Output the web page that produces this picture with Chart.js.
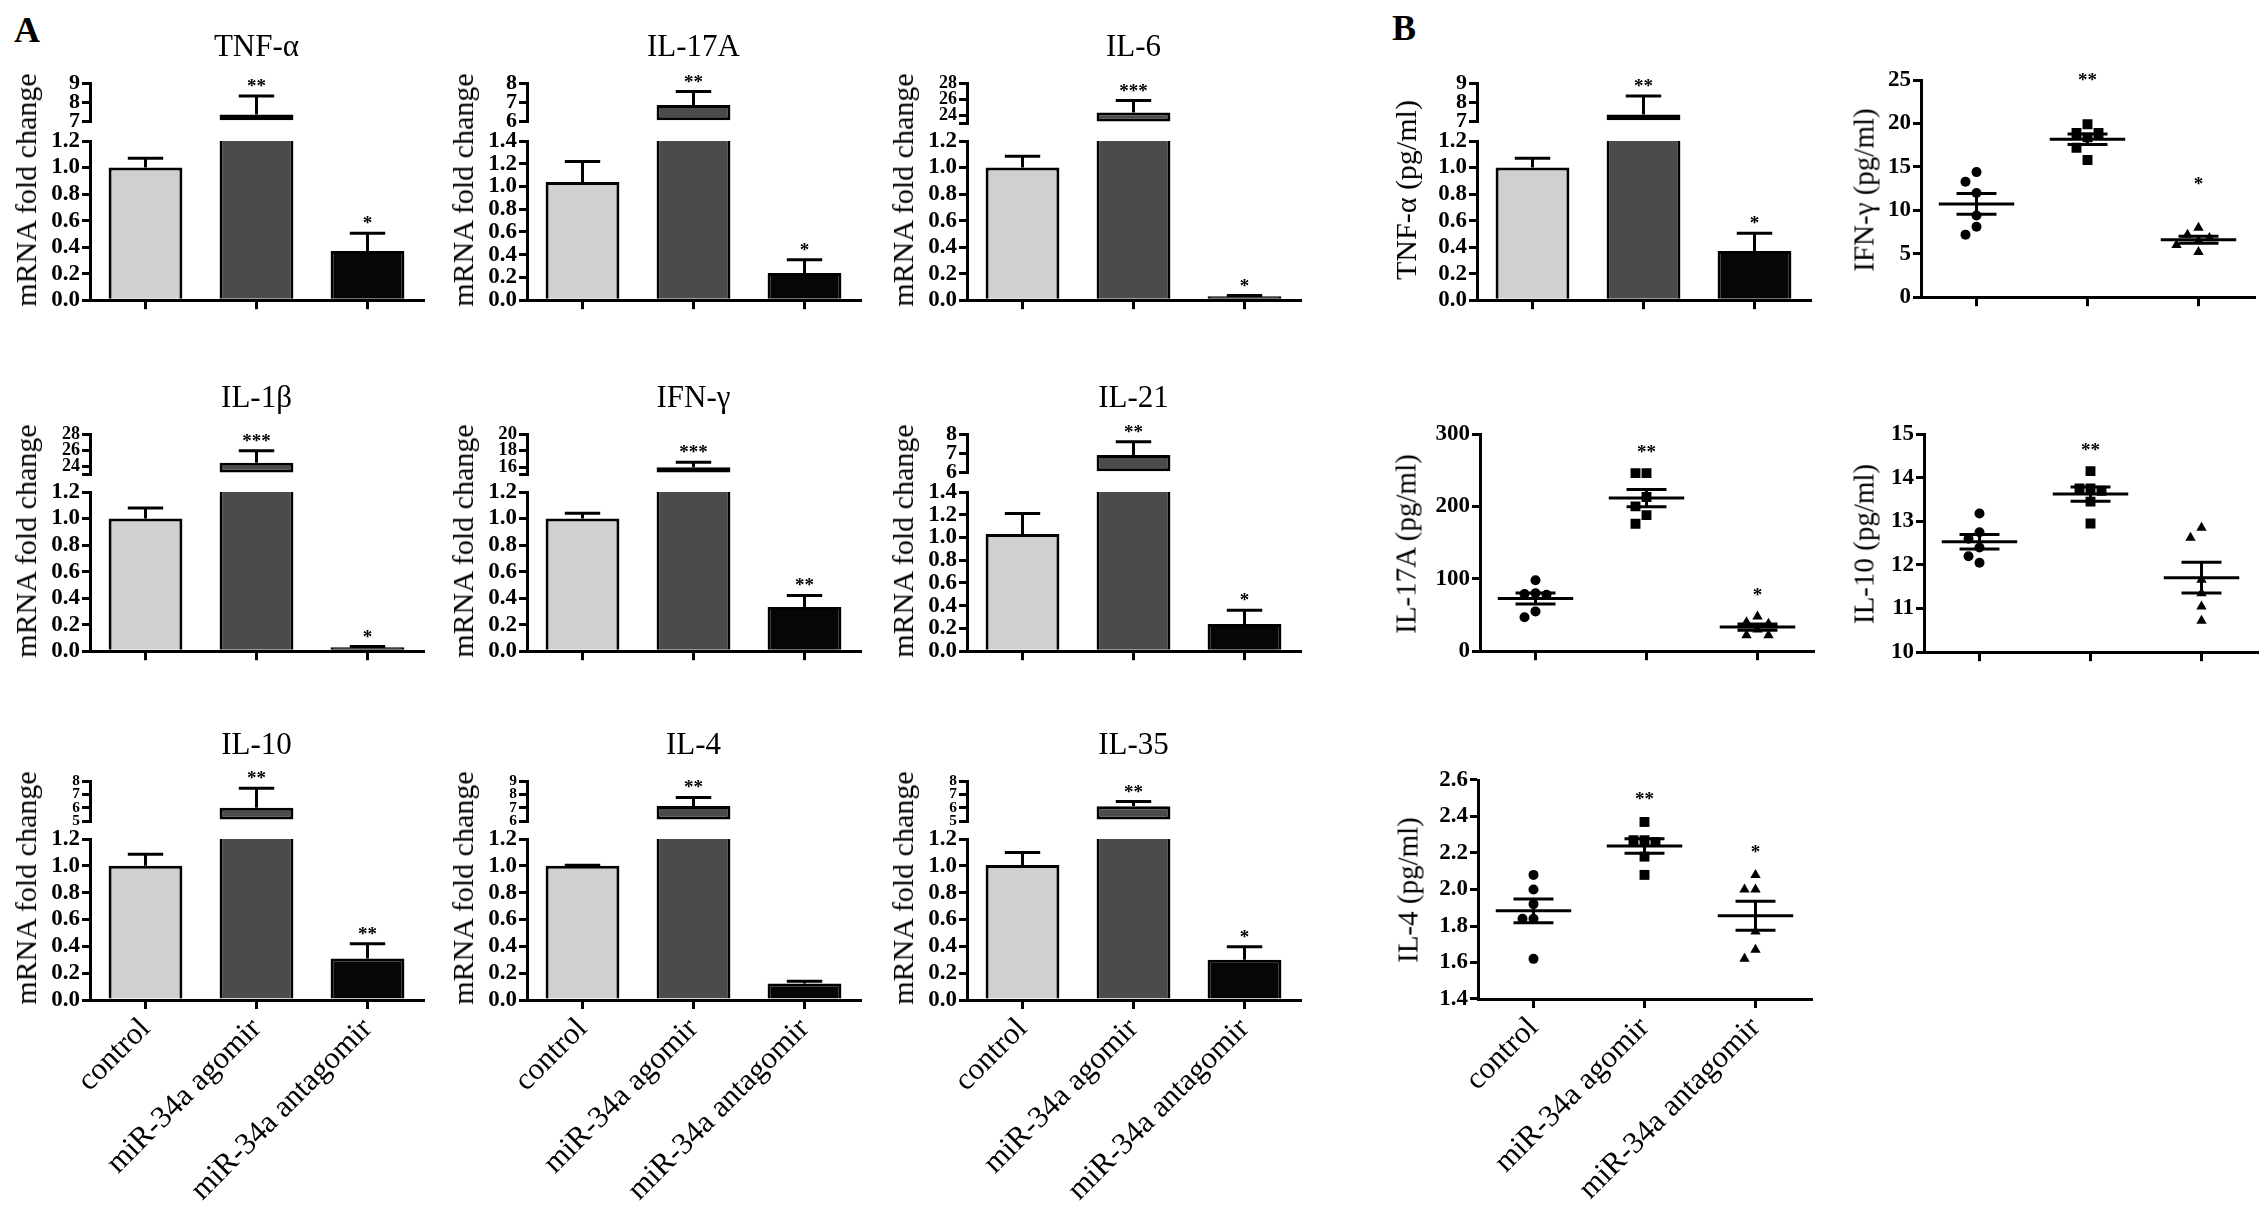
<!DOCTYPE html>
<html>
<head>
<meta charset="utf-8">
<title>miR-34a cytokines</title>
<script src="https://cdn.jsdelivr.net/npm/chart.js"></script>
<style>
html, body { margin: 0; padding: 0; background: #fff; width: 2268px; height: 1214px; overflow: hidden; }
.box { position: absolute; }
.txt { position: absolute; white-space: nowrap; font-family: 'Liberation Serif', 'Times New Roman', serif; color: #000; line-height: 1; transform: translate(-50%, -50%); }
.rot { transform: translate(-50%, -50%) rotate(-90deg); }
</style>
</head>
<body>
<script>
// Groups on the x axis
const GROUPS = ['control', 'miR-34a agomir', 'miR-34a antagomir'];

// Panel A / B bar charts: mean, SEM, significance
const TNF_MEAN = [1.0, 7.37, 0.37];
const TNF_SEM = [0.07, 0.96, 0.135];
const TNF_STARS = ['', '**', '*'];

const IL17A_MEAN = [1.04, 6.87, 0.24];
const IL17A_SEM = [0.18, 0.69, 0.115];
const IL17A_STARS = ['', '**', '*'];

const IL6_MEAN = [1.0, 24.3, 0.03];
const IL6_SEM = [0.085, 1.5, 0.005];
const IL6_STARS = ['', '***', '*'];

const IL1B_MEAN = [1.0, 24.4, 0.03];
const IL1B_SEM = [0.08, 1.5, 0.005];
const IL1B_STARS = ['', '***', '*'];

const IFNG_MEAN = [1.0, 16.0, 0.333];
const IFNG_SEM = [0.04, 0.6, 0.087];
const IFNG_STARS = ['', '***', '**'];

const IL21_MEAN = [1.03, 6.92, 0.24];
const IL21_SEM = [0.18, 0.68, 0.12];
const IL21_STARS = ['', '**', '*'];

const IL10_MEAN = [1.0, 6.0, 0.31];
const IL10_SEM = [0.086, 1.45, 0.11];
const IL10_STARS = ['', '**', '**'];

const IL4_MEAN = [1.0, 7.13, 0.123];
const IL4_SEM = [0.005, 0.64, 0.017];
const IL4_STARS = ['', '**', ''];

const IL35_MEAN = [1.007, 6.1, 0.30];
const IL35_SEM = [0.093, 0.36, 0.097];
const IL35_STARS = ['', '**', '*'];

// Panel B scatter data (pg/ml), one value per animal
const IFNG_PG_CTRL = [14.4, 13.3, 12.0, 9.4, 8.1, 7.2];
const IFNG_PG_AGO = [19.9, 18.9, 18.9, 18.4, 17.2, 15.8];
const IFNG_PG_ANT = [8.0, 7.2, 6.8, 6.5, 6.0, 5.2];
const IFNG_PG_STARS = ['', '**', '*'];

const IL17A_PG_CTRL = [98, 80, 79, 78, 55, 47];
const IL17A_PG_AGO = [246, 246, 213, 200, 188, 176];
const IL17A_PG_ANT = [48, 40, 38, 30, 22, 22];
const IL17A_PG_STARS = ['', '**', '*'];

const IL10_PG_CTRL = [13.18, 12.75, 12.6, 12.4, 12.2, 12.05];
const IL10_PG_AGO = [14.15, 13.75, 13.75, 13.7, 13.45, 12.95];
const IL10_PG_ANT = [12.85, 12.62, 11.66, 11.35, 11.05, 10.72];
const IL10_PG_STARS = ['', '**', ''];

const IL4_PG_CTRL = [2.08, 2.0, 1.92, 1.84, 1.84, 1.62];
const IL4_PG_AGO = [2.37, 2.27, 2.27, 2.26, 2.18, 2.08];
const IL4_PG_ANT = [2.08, 2.0, 2.0, 1.77, 1.67, 1.62];
const IL4_PG_STARS = ['', '**', '*'];

const FONT = "'Liberation Serif', 'Times New Roman', serif";
Chart.defaults.font.family = FONT;
Chart.defaults.color = '#000';
Chart.defaults.animation = false;

const BAR_COLORS = ['#d0d0d0', '#4b4b4b', '#060606'];
const YW = 80;      // space left of the y axis line
const PW = 333;     // plot width
const SEG_H = 40;   // height of upper (broken) segment
const GAP = 18;

// error bars (upper whisker only) and stars for bar charts
const errorBars = {
    id: 'errorBars',
    afterDatasetsDraw: function(chart, args, opts) {
        const ctx = chart.ctx;
        const ys = chart.scales.y;
        const vals = chart.data.datasets[0].data;
        ctx.save();
        ctx.strokeStyle = '#000';
        ctx.fillStyle = '#000';
        ctx.lineWidth = 3;
        chart.getDatasetMeta(0).data.forEach(function(bar, i) {
            const m = vals[i];
            if (m == null || m < ys.min || m > ys.max) return;
            const y0 = ys.getPixelForValue(m);
            const y1 = ys.getPixelForValue(m + opts.sems[i]);
            const half = bar.width * 0.24;
            ctx.beginPath();
            ctx.moveTo(bar.x, y0);
            ctx.lineTo(bar.x, y1);
            ctx.moveTo(bar.x - half, y1);
            ctx.lineTo(bar.x + half, y1);
            ctx.stroke();
            if (opts.stars[i]) {
                ctx.font = 'bold 19px ' + FONT;
                ctx.textAlign = 'center';
                ctx.textBaseline = 'alphabetic';
                ctx.fillText(opts.stars[i], bar.x, y1 - 4);
            }
        });
        ctx.restore();
    }
};

// mean +/- SEM lines and stars for scatter charts
const meanSem = {
    id: 'meanSem',
    afterDatasetsDraw: function(chart, args, opts) {
        const ctx = chart.ctx;
        const xs = chart.scales.x, ys = chart.scales.y;
        ctx.save();
        ctx.strokeStyle = '#000';
        ctx.fillStyle = '#000';
        ctx.lineWidth = 3;
        chart.data.datasets.forEach(function(ds, g) {
            const v = ds.data.map(function(p) { return p.y; });
            const n = v.length;
            const m = v.reduce(function(a, b) { return a + b; }, 0) / n;
            const sd = Math.sqrt(v.reduce(function(a, b) { return a + (b - m) * (b - m); }, 0) / (n - 1));
            const sem = sd / Math.sqrt(n);
            const hl = function(a, b, y) {
                ctx.moveTo(xs.getPixelForValue(a), ys.getPixelForValue(y));
                ctx.lineTo(xs.getPixelForValue(b), ys.getPixelForValue(y));
            };
            ctx.beginPath();
            hl(g - 0.34, g + 0.34, m);
            hl(g - 0.18, g + 0.18, m + sem);
            hl(g - 0.18, g + 0.18, m - sem);
            ctx.moveTo(xs.getPixelForValue(g), ys.getPixelForValue(m + sem));
            ctx.lineTo(xs.getPixelForValue(g), ys.getPixelForValue(m - sem));
            ctx.stroke();
            if (opts.stars[g]) {
                const top = ys.getPixelForValue(Math.max.apply(null, v));
                ctx.font = 'bold 19px ' + FONT;
                ctx.textAlign = 'center';
                ctx.textBaseline = 'alphabetic';
                ctx.fillText(opts.stars[g], xs.getPixelForValue(g), top - opts.gap + 9);
            }
        });
        ctx.restore();
    }
};

function place(left, top, width, height) {
    const d = document.createElement('div');
    d.className = 'box';
    d.style.left = left + 'px';
    d.style.top = top + 'px';
    d.style.width = width + 'px';
    d.style.height = height + 'px';
    const c = document.createElement('canvas');
    d.appendChild(c);
    document.body.appendChild(d);
    return c;
}

function label(str, x, y, size, extra) {
    const d = document.createElement('div');
    d.className = 'txt' + (extra && extra.rot ? ' rot' : '');
    d.style.left = x + 'px';
    d.style.top = y + 'px';
    d.style.fontSize = size + 'px';
    if (extra && extra.bold) d.style.fontWeight = 'bold';
    d.textContent = str;
    document.body.appendChild(d);
}

function yAxis(min, max, step, dec, size) {
    return {
        min: min,
        max: max,
        afterFit: function(s) { s.width = YW; },
        afterBuildTicks: function(s) {
            const t = [];
            for (let v = Math.ceil(min / step - 1e-6) * step; v <= max + 1e-6; v += step) t.push({ value: v });
            if (Math.abs(t[0].value - min) > 1e-6) t.unshift({ value: min });
            s.ticks = t;
        },
        ticks: {
            autoSkip: false,
            padding: 2,
            color: '#000',
            font: { size: size, weight: 'bold' },
            callback: function(v) {
                const k = v / step;
                return Math.abs(k - Math.round(k)) < 1e-6 ? v.toFixed(dec) : '';
            }
        },
        grid: { drawOnChartArea: false, drawTicks: true, tickLength: 8, lineWidth: 3, color: '#000' },
        border: { display: true, width: 3, color: '#000' }
    };
}

function xAxis(type, showLabels, h) {
    const ax = {
        type: type,
        afterFit: function(s) { s.height = h; },
        ticks: {
            display: showLabels,
            autoSkip: false,
            minRotation: 45,
            maxRotation: 45,
            padding: 2,
            color: '#000',
            font: { size: 31 }
        },
        grid: { offset: false, drawOnChartArea: false, drawTicks: true, tickLength: 9, lineWidth: 3, color: '#000' },
        border: { display: true, width: 3, color: '#000' }
    };
    if (type === 'linear') {
        ax.min = -0.5;
        ax.max = 2.5;
        ax.afterBuildTicks = function(s) { s.ticks = [0, 1, 2].map(function(v) { return { value: v }; }); };
        ax.ticks.callback = function(v) { return GROUPS[v]; };
    }
    return ax;
}

function barChart(canvas, vals, sems, stars, yCfg, xCfg, pad, seg) {
    const ds = {
        data: vals,
        backgroundColor: BAR_COLORS,
        borderColor: '#000',
        borderWidth: 3,
        barPercentage: 0.665,
        categoryPercentage: 1
    };
    if (seg) {
        // upper piece starts at the segment floor
        ds.base = seg.min;
        ds.borderSkipped = false;
        ds.clip = 0;
    } else {
        ds.borderSkipped = 'start';
        ds.clip = { top: 0, left: false, right: false, bottom: false };
    }
    return new Chart(canvas, {
        type: 'bar',
        data: { labels: GROUPS, datasets: [ds] },
        options: {
            responsive: true,
            maintainAspectRatio: false,
            layout: { padding: pad, autoPadding: false },
            plugins: {
                legend: { display: false },
                tooltip: { enabled: false },
                errorBars: { sems: sems, stars: stars }
            },
            scales: { x: xCfg, y: yCfg }
        },
        plugins: [errorBars]
    });
}

// bar chart with a broken y axis: small upper segment + 0..botMax segment
function brokenPanel(ax, tick, xLine, title, yTitle, yTitleX, mean, sem, stars, seg, showLabels) {
    const segB = tick + SEG_H;
    const botT = segB + GAP;
    const pxStep = SEG_H / (seg.max - seg.min) * seg.step;
    const topFont = Math.min(22, pxStep + 2);
    const topVals = mean.map(function(v) { return v >= seg.min ? v : null; });

    const c1 = place(ax - YW, tick - 30, YW + PW + 10, SEG_H + 30 + 14);
    barChart(c1, topVals, sem, stars,
        yAxis(seg.min, seg.max, seg.step, 0, topFont),
        { type: 'category', display: false, grid: { offset: false } },
        { top: 30, bottom: 14, left: 0, right: 10 }, seg);

    const xH = showLabels ? 215 : 14;
    const c2 = place(ax - YW, botT - 16, YW + PW + 10, (xLine - botT) + 16 + xH);
    barChart(c2, mean, sem, stars,
        yAxis(0, seg.botMax, 0.2, 1, 23),
        xAxis('category', showLabels, xH),
        { top: 16, bottom: 0, left: 0, right: 10 }, null);

    if (title) label(title, ax + PW / 2, tick - 38, 31);
    label(yTitle, yTitleX, (tick + xLine) / 2 - 3, 30, { rot: true });
}

const STYLES = ['circle', 'rect', 'triangle'];
const RADII = [5, 7, 6];

// spread points that would overlap, like a column scatter
function swarm(vals, pxY, pxX) {
    const placed = [];
    const offs = new Array(vals.length);
    const order = vals.map(function(v, i) { return i; }).sort(function(a, b) { return vals[b] - vals[a]; });
    order.forEach(function(i) {
        const y = vals[i] * pxY;
        const ks = [0, -1, 1, -2, 2, -3, 3];
        for (let j = 0; j < ks.length; j++) {
            const x = ks[j] * 11;
            const free = placed.every(function(p) { return Math.hypot(p.x - x, p.y - y) >= 11; });
            if (free) { placed.push({ x: x, y: y }); offs[i] = x / pxX; break; }
        }
    });
    return offs;
}

function scatterPanel(ax, top, bottom, groups, stars, gap, axis, yTitle, yTitleX, showLabels) {
    const xH = showLabels ? 215 : 14;
    const c = place(ax - YW, top - 16, YW + PW + 10, (bottom - top) + 16 + xH);
    const pxY = (bottom - top) / (axis.max - axis.min);
    const pxX = PW / 3;
    const datasets = groups.map(function(vals, g) {
        const offs = swarm(vals, pxY, pxX);
        return {
            data: vals.map(function(v, i) { return { x: g + offs[i], y: v }; }),
            pointStyle: STYLES[g],
            pointRadius: RADII[g],
            backgroundColor: '#000',
            borderColor: '#000',
            borderWidth: 0
        };
    });
    new Chart(c, {
        type: 'scatter',
        data: { datasets: datasets },
        options: {
            responsive: true,
            maintainAspectRatio: false,
            layout: { padding: { top: 16, bottom: 0, left: 0, right: 10 }, autoPadding: false },
            plugins: {
                legend: { display: false },
                tooltip: { enabled: false },
                meanSem: { stars: stars, gap: gap }
            },
            scales: {
                x: xAxis('linear', showLabels, xH),
                y: yAxis(axis.min, axis.max, axis.step, axis.dec, 23)
            }
        },
        plugins: [meanSem]
    });
    label(yTitle, yTitleX, (top + bottom) / 2, 29, { rot: true });
}

document.addEventListener('DOMContentLoaded', function() {
    const COLS = [90, 527, 967];
    const ROWS = [{ tick: 83, x: 302 }, { tick: 434, x: 653 }, { tick: 781, x: 1000 }];
    const Y_A = 'mRNA fold change';

    label('A', 27, 30, 36, { bold: true });
    label('B', 1404, 28, 36, { bold: true });

    // Panel A
    brokenPanel(COLS[0], ROWS[0].tick, ROWS[0].x, 'TNF-α', Y_A, COLS[0] - 64, TNF_MEAN, TNF_SEM, TNF_STARS,
        { min: 7, max: 9, step: 1, botMax: 1.2 }, false);
    brokenPanel(COLS[1], ROWS[0].tick, ROWS[0].x, 'IL-17A', Y_A, COLS[1] - 64, IL17A_MEAN, IL17A_SEM, IL17A_STARS,
        { min: 6, max: 8, step: 1, botMax: 1.4 }, false);
    brokenPanel(COLS[2], ROWS[0].tick, ROWS[0].x, 'IL-6', Y_A, COLS[2] - 64, IL6_MEAN, IL6_SEM, IL6_STARS,
        { min: 23, max: 28, step: 2, botMax: 1.2 }, false);

    brokenPanel(COLS[0], ROWS[1].tick, ROWS[1].x, 'IL-1β', Y_A, COLS[0] - 64, IL1B_MEAN, IL1B_SEM, IL1B_STARS,
        { min: 23, max: 28, step: 2, botMax: 1.2 }, false);
    brokenPanel(COLS[1], ROWS[1].tick, ROWS[1].x, 'IFN-γ', Y_A, COLS[1] - 64, IFNG_MEAN, IFNG_SEM, IFNG_STARS,
        { min: 15.2, max: 20, step: 2, botMax: 1.2 }, false);
    brokenPanel(COLS[2], ROWS[1].tick, ROWS[1].x, 'IL-21', Y_A, COLS[2] - 64, IL21_MEAN, IL21_SEM, IL21_STARS,
        { min: 6, max: 8, step: 1, botMax: 1.4 }, false);

    brokenPanel(COLS[0], ROWS[2].tick, ROWS[2].x, 'IL-10', Y_A, COLS[0] - 64, IL10_MEAN, IL10_SEM, IL10_STARS,
        { min: 5, max: 8, step: 1, botMax: 1.2 }, true);
    brokenPanel(COLS[1], ROWS[2].tick, ROWS[2].x, 'IL-4', Y_A, COLS[1] - 64, IL4_MEAN, IL4_SEM, IL4_STARS,
        { min: 6, max: 9, step: 1, botMax: 1.2 }, true);
    brokenPanel(COLS[2], ROWS[2].tick, ROWS[2].x, 'IL-35', Y_A, COLS[2] - 64, IL35_MEAN, IL35_SEM, IL35_STARS,
        { min: 5, max: 8, step: 1, botMax: 1.2 }, true);

    // Panel B
    brokenPanel(1477, ROWS[0].tick, ROWS[0].x, null, 'TNF-α (pg/ml)', 1406, TNF_MEAN, TNF_SEM, TNF_STARS,
        { min: 7, max: 9, step: 1, botMax: 1.2 }, false);
    scatterPanel(1921, 80, 299, [IFNG_PG_CTRL, IFNG_PG_AGO, IFNG_PG_ANT], IFNG_PG_STARS, 47,
        { min: 0, max: 25, step: 5, dec: 0 }, 'IFN-γ (pg/ml)', 1864, false);
    scatterPanel(1480, 434, 653, [IL17A_PG_CTRL, IL17A_PG_AGO, IL17A_PG_ANT], IL17A_PG_STARS, 24,
        { min: 0, max: 300, step: 100, dec: 0 }, 'IL-17A (pg/ml)', 1406, false);
    scatterPanel(1924, 434, 654, [IL10_PG_CTRL, IL10_PG_AGO, IL10_PG_ANT], IL10_PG_STARS, 24,
        { min: 10, max: 15, step: 1, dec: 0 }, 'IL-10 (pg/ml)', 1864, false);
    scatterPanel(1478, 780, 999, [IL4_PG_CTRL, IL4_PG_AGO, IL4_PG_ANT], IL4_PG_STARS, 26,
        { min: 1.4, max: 2.6, step: 0.2, dec: 1 }, 'IL-4 (pg/ml)', 1408, true);
});
</script>
</body>
</html>
